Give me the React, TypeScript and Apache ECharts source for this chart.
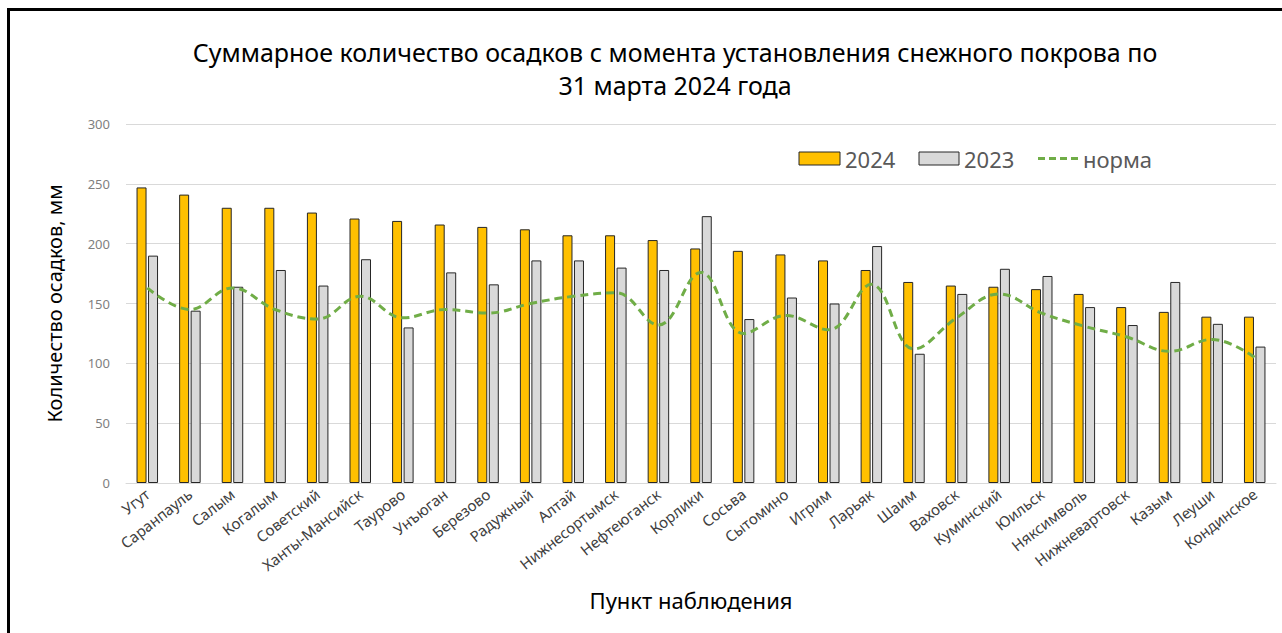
import React, { useEffect, useRef } from "react";
import * as echarts from "echarts";

const categories = [
  "Угут", "Саранпауль", "Салым", "Когалым", "Советский", "Ханты-Мансийск", "Таурово",
  "Унъюган", "Березово", "Радужный", "Алтай", "Нижнесортымск", "Нефтеюганск", "Корлики",
  "Сосьва", "Сытомино", "Игрим", "Ларьяк", "Шаим", "Ваховск", "Куминский", "Юильск",
  "Няксимволь", "Нижневартовск", "Казым", "Леуши", "Кондинское",
];
const values2024 = [247, 241, 230, 230, 226, 221, 219, 216, 214, 212, 207, 207, 203, 196, 194, 191, 186, 178, 168, 165, 164, 162, 158, 147, 143, 139, 139];
const values2023 = [190, 144, 164, 178, 165, 187, 130, 176, 166, 186, 186, 180, 178, 223, 137, 155, 150, 198, 108, 158, 179, 173, 147, 132, 168, 133, 114];
const valuesNorm = [163, 145, 163, 145, 137, 156, 138, 145, 142, 150, 156, 159, 132, 176, 125, 140, 128, 166, 112, 138, 158, 142, 131, 122, 110, 120, 105];
const yTicks = { min: 0, max: 300, interval: 50 };
const legendNames = ["2024", "2023", "норма"];

const titleText = "Суммарное количество осадков с момента установления снежного покрова по\n31 марта 2024 года";
const yName = "Количество осадков, мм";
const xName = "Пункт наблюдения";

const FONT = "'Noto Sans', sans-serif";
const C2024 = "#FFC000";
const C2023 = "#D9D9D9";
const CNORM = "#70AD47";
const BORDER = "#262626";

export default function App() {
  const ref = useRef<HTMLDivElement>(null);
  useEffect(() => {
    document.body.style.margin = "0";
    if (!ref.current) return;
    const chart = echarts.init(ref.current, null, { renderer: "svg" });
    const legendText = { fontFamily: FONT, fontSize: 22, fill: "#595959", verticalAlign: "middle", align: "left" };
    chart.setOption({
      animation: false,
      backgroundColor: "transparent",
      textStyle: { fontFamily: FONT },
      title: {
        text: titleText,
        left: 670,
        textAlign: "center",
        top: 30,
        textStyle: { fontFamily: FONT, fontSize: 25, fontWeight: "normal", color: "#000", lineHeight: 33 },
      },
      graphic: [
        { type: "rect", shape: { x: 799, y: 152, width: 41, height: 13 }, style: { fill: C2024, stroke: BORDER, lineWidth: 1 } },
        { type: "text", x: 845, y: 158.5, style: { ...legendText, text: legendNames[0] } },
        { type: "rect", shape: { x: 919, y: 152, width: 40, height: 13 }, style: { fill: C2023, stroke: BORDER, lineWidth: 1 } },
        { type: "text", x: 964, y: 158.5, style: { ...legendText, text: legendNames[1] } },
        { type: "line", shape: { x1: 1038, y1: 158.5, x2: 1080, y2: 158.5 }, style: { stroke: CNORM, lineWidth: 3, lineDash: [7, 4] } },
        { type: "text", x: 1083, y: 158.5, style: { ...legendText, text: legendNames[2] } },
      ],
      grid: { left: 126, right: 6, top: 124, bottom: 150, containLabel: false },
      xAxis: {
        type: "category",
        data: categories,
        name: xName,
        nameLocation: "middle",
        nameGap: 106,
        nameTextStyle: { fontFamily: FONT, fontSize: 22, color: "#000", padding: [0, 20, 0, 0] },
        axisLine: { lineStyle: { color: "#d9d9d9" } },
        axisTick: { show: false },
        axisLabel: { interval: 0, rotate: 38, fontSize: 15, color: "#404040", margin: 9, fontFamily: FONT },
      },
      yAxis: {
        type: "value",
        min: yTicks.min,
        max: yTicks.max,
        interval: yTicks.interval,
        name: yName,
        nameLocation: "middle",
        nameGap: 62,
        nameTextStyle: { fontFamily: FONT, fontSize: 20, color: "#000" },
        axisLabel: { fontSize: 13, color: "#7f7f7f", margin: 16, fontFamily: FONT },
        splitLine: { lineStyle: { color: "#d9d9d9", width: 1 } },
        axisLine: { show: false },
        axisTick: { show: false },
      },
      series: [
        {
          name: legendNames[0],
          type: "bar",
          data: values2024,
          barWidth: 10,
          barGap: "15%",
          itemStyle: { color: C2024, borderColor: BORDER, borderWidth: 1 },
        },
        {
          name: legendNames[1],
          type: "bar",
          data: values2023,
          barWidth: 10,
          barGap: "15%",
          itemStyle: { color: C2023, borderColor: BORDER, borderWidth: 1 },
        },
        {
          name: legendNames[2],
          type: "line",
          data: valuesNorm,
          smooth: 0.4,
          symbol: "none",
          lineStyle: { color: CNORM, width: 3, type: [8, 5] },
          itemStyle: { color: CNORM },
          z: 5,
        },
      ],
    });
    return () => chart.dispose();
  }, []);
  return (
    <div style={{ position: "absolute", left: 0, top: 0, width: 1282, height: 633, background: "#fff", overflow: "hidden" }}>
      <div
        style={{
          position: "absolute",
          left: 7,
          top: 8,
          width: 1282 - 7,
          height: 633 - 8,
          borderTop: "3px solid #000",
          borderLeft: "3px solid #000",
          boxSizing: "border-box",
        }}
      />
      <div ref={ref} style={{ position: "absolute", left: 0, top: 0, width: 1282, height: 633 }} />
    </div>
  );
}
